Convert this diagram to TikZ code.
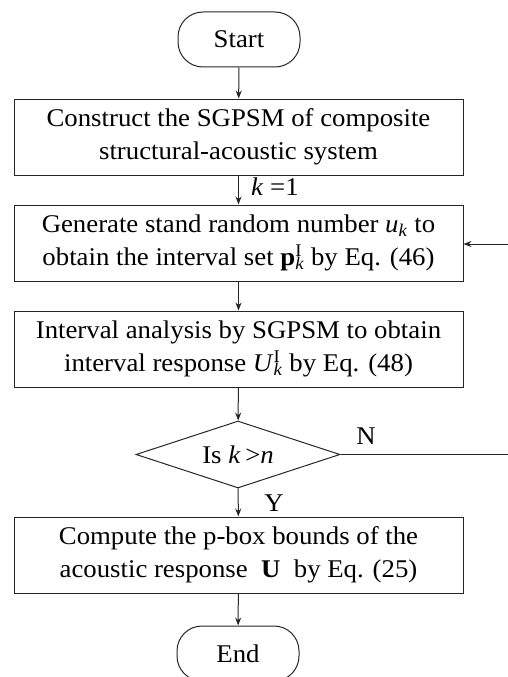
\documentclass[tikz,border=0pt]{standalone}
\usepackage{fontspec}
\setmainfont[FakeStretch=1.05]{Liberation Serif}
\usetikzlibrary{shapes.geometric,arrows.meta}
\newcommand{\supsub}[2]{\rlap{\textsuperscript{#1}}\textsubscript{#2}}
\begin{document}
\begin{tikzpicture}[x=1pt,y=-1pt,
  font=\fontsize{25.5}{33}\selectfont,
  ln/.style={draw=black!85, line width=1pt},
  box/.style={ln, rectangle, minimum width=449pt, minimum height=76pt, align=center, inner sep=0pt},
  term/.style={ln, rectangle, rounded corners=25pt, minimum width=122pt, minimum height=55pt, inner sep=0pt},
  dec/.style={ln, diamond, aspect=3.05, minimum width=204pt, minimum height=67pt, inner sep=0pt},
  arr/.style={ln, -{Stealth[length=8pt,width=6pt]}},
  lbl/.style={inner sep=0pt}]
\useasboundingbox (0,0) rectangle (508,677);
\node[term] (start) at (239,39.5) {Start};
\node[box] (b1) at (238.5,137) {Construct the SGPSM of composite\\structural-acoustic system};
\node[box] (b2) at (238.5,243) {Generate stand random number \textit{u}\textsubscript{\textit{k}} to\\obtain the interval set \textbf{p}\supsub{I}{\textit{k}} by Eq. (46)};
\node[box] (b3) at (238.5,349) {Interval analysis by SGPSM to obtain\\interval response \textit{U}\supsub{I}{\textit{k}} by Eq. (48)};
\node[dec] (d) at (238,454.5) {Is \textit{k} \kern-2pt>\textit{n}};
\node[box] (b4) at (238.5,555) {Compute the p-box bounds of the\\acoustic response \ \textbf{U}\ \ by Eq. (25)};
\node[term] (end) at (238,653.5) {End};
\coordinate (rin) at (508,244);
\coordinate (rout) at (508,454.5);
\node[lbl, anchor=west] (k1) at (251,187) {\textit{k} =1};
\node[lbl] (nl) at (366,436) {N};
\node[lbl] (yl) at (274,503) {Y};
\draw[arr] (start) -- (b1);
\draw[arr] (b1) -- (b2);
\draw[arr] (b2) -- (b3);
\draw[arr] (b3) -- (d);
\draw[arr] (d) -- (b4);
\draw[arr] (b4) -- (end);
\draw[ln] (d.east) -- (rout);
\draw[arr] (rin) -- (b2.east |- rin);
\end{tikzpicture}
\end{document}
